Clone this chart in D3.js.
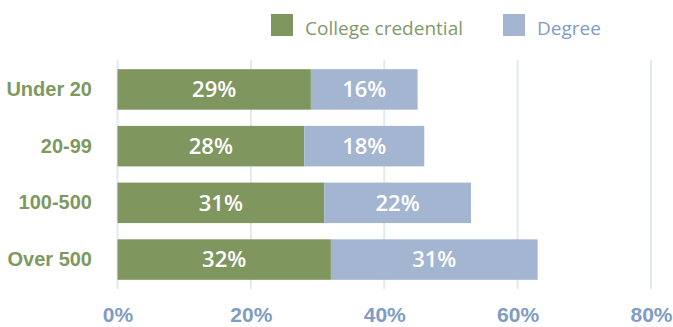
<!DOCTYPE html>
<html>
<head>
<meta charset="utf-8">
<script src="https://cdn.jsdelivr.net/npm/d3@7"></script>
<style>
  html, body { margin: 0; padding: 0; background: #ffffff; }
  svg { display: block; font-family: "Open Sans", Lato, sans-serif; }
</style>
</head>
<body>
<svg id="chart" width="673" height="327"></svg>
<script>
// Share of employers by size requiring each credential type (%)
const categories = ["Under 20", "20-99", "100-500", "Over 500"];
const college = [29, 28, 31, 32];
const degree = [16, 18, 22, 31];
const seriesNames = ["College credential", "Degree"];
const tickValues = [0, 20, 40, 60, 80];

const colors = { college: "#80965f", degree: "#a3b5d0" };
const labelGreen = "#7e9960";
const labelBlue = "#7f9cc3";
const gridColor = "#e3e8f1";

const svg = d3.select("#chart");

const x = d3.scaleLinear().domain([0, 80]).range([117.5, 651]);
const y = d3.scaleBand().domain(categories).range([60, 289])
  .paddingInner(0.286).paddingOuter(0.162);

// Vertical gridlines
svg.append("g").selectAll("line").data(tickValues).join("line")
  .attr("x1", d => x(d)).attr("x2", d => x(d))
  .attr("y1", 60).attr("y2", 289)
  .attr("stroke", gridColor).attr("stroke-width", 2);

// Tick labels along the bottom
const xAxis = d3.axisBottom(x).tickValues(tickValues).tickFormat(d => d + "%").tickSize(0).tickPadding(0);
const gx = svg.append("g").call(xAxis);
gx.select(".domain").remove();
gx.selectAll("text")
  .attr("y", 322).attr("dy", null)
  .attr("fill", labelBlue)
  .style("font-size", "21px").style("font-weight", 700);

// Category labels
const yAxis = d3.axisLeft(y).tickSize(0).tickPadding(0);
const gy = svg.append("g").attr("transform", "translate(92,0)").call(yAxis);
gy.select(".domain").remove();
gy.selectAll("text")
  .attr("dy", null).attr("y", 6.5)
  .attr("fill", labelGreen)
  .style("font-size", "20px").style("font-weight", 700);

// Stacked bars
const rows = categories.map((c, i) => ({ cat: c, college: college[i], degree: degree[i] }));
const stack = d3.stack().keys(["college", "degree"])(rows);

const layers = svg.append("g").selectAll("g").data(stack).join("g")
  .attr("fill", d => colors[d.key]);

layers.selectAll("rect").data(d => d).join("rect")
  .attr("x", d => x(d[0]))
  .attr("width", d => x(d[1]) - x(d[0]))
  .attr("y", d => y(d.data.cat))
  .attr("height", y.bandwidth());

// Value labels in each segment
layers.selectAll("text").data(d => d.map(v => ({ v, key: d.key }))).join("text")
  .attr("x", d => (x(d.v[0]) + x(d.v[1])) / 2)
  .attr("y", d => y(d.v.data.cat) + y.bandwidth() / 2 + 7.8)
  .attr("text-anchor", "middle")
  .attr("fill", "#ffffff")
  .style("font-size", "22px").style("font-weight", 600)
  .text(d => d.v.data[d.key] + "%");

// Legend
const legend = svg.append("g");
const legendItems = [
  { name: seriesNames[0], color: colors.college, text: "#80996a", x: 271 },
  { name: seriesNames[1], color: colors.degree, text: labelBlue, x: 503 }
];
const li = legend.selectAll("g").data(legendItems).join("g")
  .attr("transform", d => `translate(${d.x},14)`);
li.append("rect").attr("width", 22).attr("height", 22).attr("fill", d => d.color);
li.append("text").attr("x", 34).attr("y", 21)
  .attr("fill", d => d.text)
  .style("font-size", "19px")
  .text(d => d.name);
</script>
</body>
</html>
